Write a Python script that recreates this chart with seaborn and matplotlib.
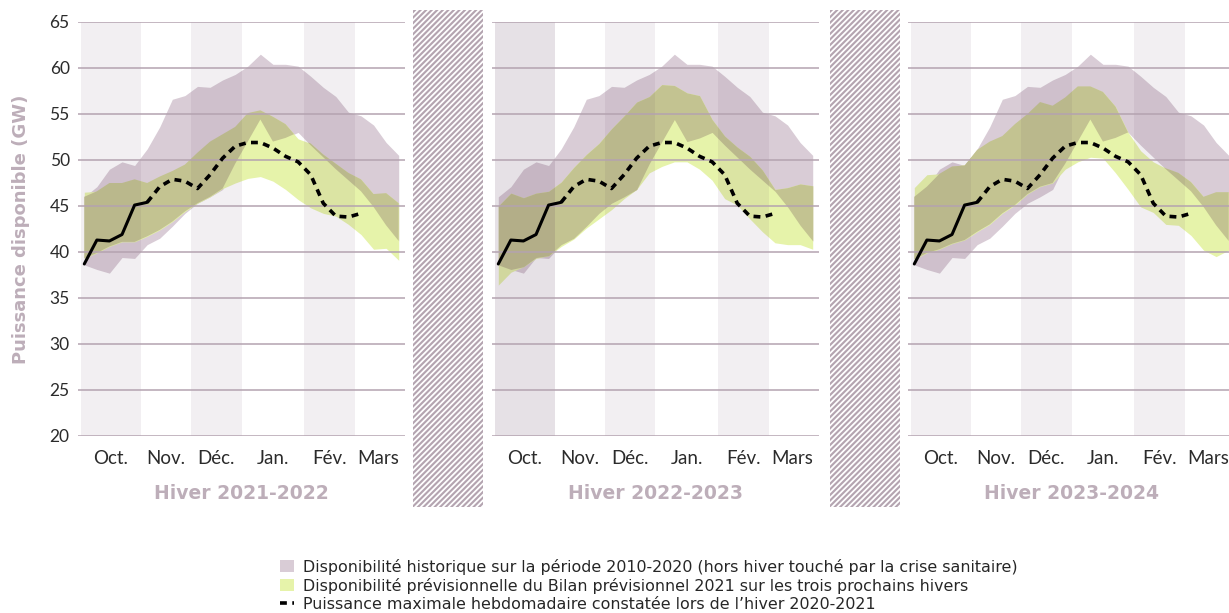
import matplotlib
matplotlib.use('Agg')
import matplotlib.pyplot as plt
from matplotlib.patches import Patch, Rectangle
from matplotlib.lines import Line2D
import numpy as np
import pandas as pd
import seaborn as sns

sns.set_theme(style='white')
plt.rcParams['font.family'] = ['Lato', 'DejaVu Sans']
plt.rcParams['hatch.linewidth'] = 1.3

# Semaines d'octobre a mars, limites des mois (en semaines)
mois = ['Oct.', 'Nov.', 'Déc.', 'Jan.', 'Fév.', 'Mars']
limites_mois = [-0.25, 4.5, 8.5, 12.5, 17.5, 21.5, 25.25]
semaines = list(range(26))

# Disponibilite historique 2010-2020 (GW), bornes haute et basse
hist_haut = [46.0, 47.1, 49.0, 49.8, 49.4, 51.2, 53.6, 56.6, 57.0, 58.0, 57.9, 58.7, 59.3,
             60.2, 61.5, 60.4, 60.4, 60.2, 59.1, 57.9, 56.9, 55.2, 54.8, 53.8, 51.9, 50.5]
hist_bas = [38.6, 38.1, 37.7, 39.4, 39.3, 40.8, 41.5, 42.8, 44.2, 45.3, 46.0, 46.8, 49.6,
            52.0, 54.4, 52.0, 52.4, 53.0, 51.6, 50.3, 49.0, 47.8, 46.6, 44.9, 42.9, 41.2]

# Disponibilite previsionnelle du Bilan previsionnel 2021, par hiver
prev_haut_2122 = [46.5, 46.6, 47.5, 47.5, 47.9, 47.5, 48.2, 48.8, 49.5, 50.8, 52.0, 52.8, 53.6,
                  55.1, 55.4, 54.7, 53.9, 52.3, 51.8, 50.6, 49.6, 48.6, 47.9, 46.3, 46.4, 45.3]
prev_bas_2122 = [39.3, 39.9, 40.6, 41.1, 41.1, 41.7, 42.4, 43.3, 44.4, 45.3, 46.0, 46.9, 47.5,
                 48.0, 48.2, 47.7, 46.8, 45.7, 44.8, 44.2, 43.9, 43.0, 41.9, 40.3, 40.4, 39.1]
prev_haut_2223 = [45.0, 46.4, 45.9, 46.4, 46.6, 47.6, 49.2, 50.6, 51.8, 53.4, 54.8, 56.3, 56.9,
                  58.2, 58.1, 57.3, 57.0, 54.4, 52.6, 51.4, 50.4, 48.9, 46.8, 47.0, 47.4, 47.2]
prev_bas_2223 = [36.4, 37.8, 38.4, 39.3, 39.6, 40.6, 41.4, 42.6, 43.6, 44.6, 45.8, 46.8, 48.6,
                 49.3, 49.8, 49.8, 49.0, 47.8, 45.8, 45.1, 43.6, 42.2, 41.0, 40.8, 40.8, 40.3]
prev_haut_2324 = [47.0, 48.4, 48.5, 49.3, 49.5, 51.1, 52.0, 52.6, 53.9, 55.0, 56.3, 55.9, 56.8,
                  58.0, 58.0, 57.4, 55.8, 53.0, 51.0, 49.8, 49.1, 48.6, 47.6, 46.0, 46.5, 46.5]
prev_bas_2324 = [39.2, 39.9, 40.3, 40.9, 41.3, 42.2, 43.0, 44.2, 45.1, 46.3, 47.1, 47.5, 49.0,
                 49.8, 50.3, 50.2, 48.6, 46.8, 44.9, 44.3, 43.0, 42.9, 41.8, 40.2, 39.5, 40.2]

# Puissance maximale hebdomadaire constatee lors de l'hiver 2020-2021 (GW)
puissance_2021 = [38.7, 41.3, 41.2, 41.9, 45.1, 45.4, 47.1, 47.9, 47.7, 46.9, 48.4, 50.2,
                  51.5, 51.9, 51.9, 51.3, 50.4, 49.8, 48.4, 45.3, 43.9, 43.8, 44.2]
nb_semaines_trait_plein = 6

hivers = ['Hiver 2021-2022', 'Hiver 2022-2023', 'Hiver 2023-2024']
prev_haut = [prev_haut_2122, prev_haut_2223, prev_haut_2324]
prev_bas = [prev_bas_2122, prev_bas_2223, prev_bas_2324]

c_hist = '#d9ccd6'
c_prev = '#e6f3aa'
c_both = '#c3c391'
c_grid = '#b4a3b0'
c_label = '#bdaeb9'
c_text = '#2b2b2b'

df_ligne = pd.DataFrame({'semaine': semaines[:len(puissance_2021)], 'gw': puissance_2021})
df_plein = df_ligne.iloc[:nb_semaines_trait_plein]
df_tirets = df_ligne.iloc[nb_semaines_trait_plein - 1:]

W, H = 1229, 613
fig = plt.figure(figsize=(W / 100, H / 100), dpi=100)
gauches = [78, 492, 908]
alpha_oct = [0.08, 0.15, 0.08]

for i, hiver in enumerate(hivers):
    ax = fig.add_axes([gauches[i] / W, (H - 436) / H, 327 / W, 414 / H])
    x = np.array(semaines)
    hh, hb = np.array(hist_haut), np.array(hist_bas)
    ph, pb = np.array(prev_haut[i]), np.array(prev_bas[i])

    ax.fill_between(x, hb, hh, color=c_hist, lw=0, zorder=1)
    ax.fill_between(x, pb, ph, color=c_prev, lw=0, zorder=1.1)
    haut_commun = np.minimum(hh, ph)
    bas_commun = np.maximum(hb, pb)
    ax.fill_between(x, bas_commun, haut_commun, where=haut_commun > bas_commun,
                    interpolate=True, color=c_both, lw=0, zorder=1.2)

    # bandes grisees des mois
    for m in range(0, len(mois), 2):
        a = alpha_oct[i] if m == 0 else 0.08
        ax.axvspan(limites_mois[m], limites_mois[m + 1], color='#5a3a5a', alpha=a,
                   lw=0, zorder=1.5)

    sns.lineplot(data=df_plein, x='semaine', y='gw', ax=ax, color='black', lw=2.2,
                 zorder=3)
    sns.lineplot(data=df_tirets, x='semaine', y='gw', ax=ax, color='black', lw=2.6,
                 dashes=False, linestyle=(0, (1.9, 1.5)), zorder=3)

    ax.set_xlim(-0.5, 25.5)
    ax.set_ylim(20, 65)
    ax.set_yticks(range(20, 66, 5))
    centres = [(limites_mois[m] + limites_mois[m + 1]) / 2 for m in range(len(mois))]
    ax.set_xticks(centres)
    ax.set_xticklabels(mois)
    ax.grid(axis='y', color=c_grid, lw=1.1)
    ax.grid(axis='x', visible=False)
    ax.set_axisbelow(False)
    for s in ax.spines.values():
        s.set_visible(False)
    ax.tick_params(axis='x', length=0, pad=10, labelsize=13.5, labelcolor=c_text)
    ax.tick_params(axis='y', length=0, pad=6, labelsize=12.5, labelcolor=c_text)
    if i > 0:
        ax.set_yticklabels([])
    else:
        ax.set_ylabel('Puissance disponible (GW)', family='DejaVu Sans', weight='bold',
                      fontsize=13, color=c_label, labelpad=14)
    ax.set_xlabel(hiver, family='DejaVu Sans', weight='bold', fontsize=13.5,
                  color=c_label, labelpad=12)
    ax.set_facecolor('none')

# separateurs hachures
for xg in [413, 830]:
    sep = fig.add_axes([xg / W, (H - 507) / H, 70 / W, 497 / H])
    sep.add_patch(Rectangle((0, 0), 1, 1, transform=sep.transAxes, facecolor='#b4a4b0',
                            edgecolor='white', hatch='//////', lw=0))
    sep.axis('off')

handles = [Patch(facecolor=c_hist, edgecolor='none'),
           Patch(facecolor=c_prev, edgecolor='none'),
           Line2D([], [], color='black', lw=2.6, linestyle=(0, (1.9, 1.5)))]
labels = ['Disponibilité historique sur la période 2010-2020 (hors hiver touché par la crise sanitaire)',
          'Disponibilité prévisionnelle du Bilan prévisionnel 2021 sur les trois prochains hivers',
          'Puissance maximale hebdomadaire constatée lors de l\u2019hiver 2020-2021']
fig.legend(handles, labels, loc='upper left', bbox_to_anchor=(272 / W, 1 - 551 / H),
           frameon=False, handlelength=0.9, handleheight=0.8,
           labelspacing=0.18, handletextpad=0.55, borderpad=0,
           prop={'family': ['DejaVu Sans'], 'size': 11.4})

fig.savefig('out.png', dpi=100)
